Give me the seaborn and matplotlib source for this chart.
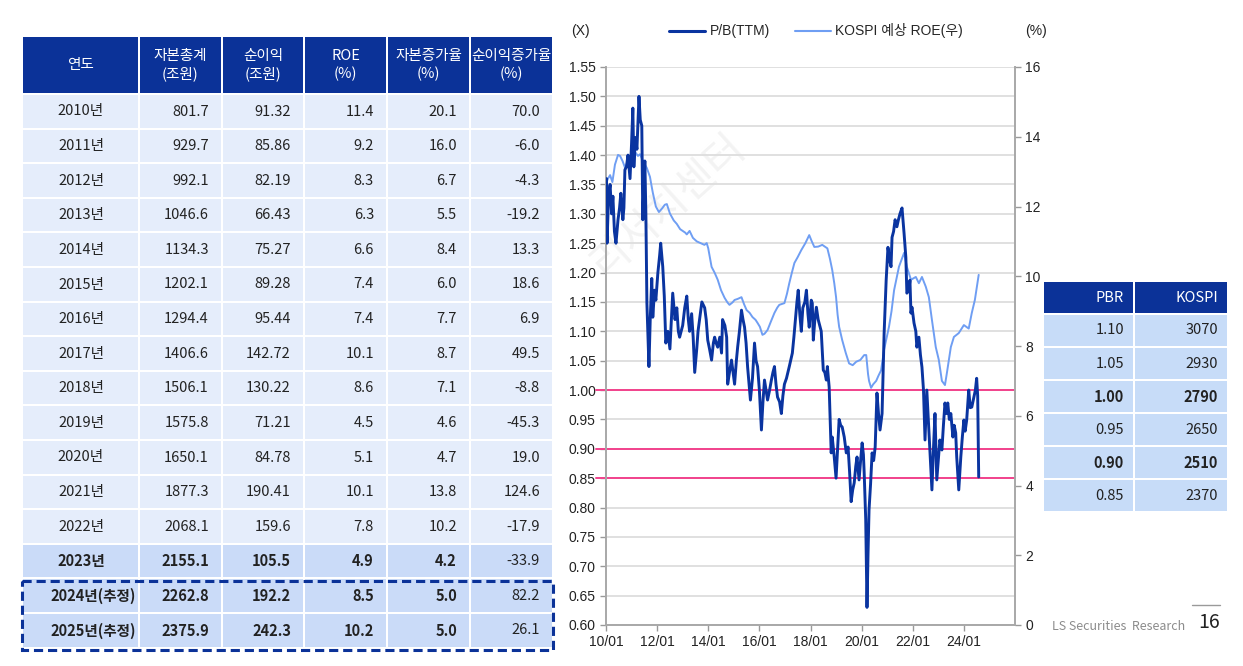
import numpy as np
import pandas as pd
import seaborn as sns
import matplotlib.pyplot as plt
from matplotlib.patches import Rectangle
from matplotlib.lines import Line2D

# ---- 왼쪽 표: 연도별 자본/순이익 ----
headers = ['연도', '자본총계\n(조원)', '순이익\n(조원)', 'ROE\n(%)', '자본증가율\n(%)', '순이익증가율\n(%)']
years = ['2010년', '2011년', '2012년', '2013년', '2014년', '2015년', '2016년', '2017년',
         '2018년', '2019년', '2020년', '2021년', '2022년', '2023년', '2024년(추정)', '2025년(추정)']
equity = ['801.7', '929.7', '992.1', '1046.6', '1134.3', '1202.1', '1294.4', '1406.6',
          '1506.1', '1575.8', '1650.1', '1877.3', '2068.1', '2155.1', '2262.8', '2375.9']
net_income = ['91.32', '85.86', '82.19', '66.43', '75.27', '89.28', '95.44', '142.72',
              '130.22', '71.21', '84.78', '190.41', '159.6', '105.5', '192.2', '242.3']
roe = ['11.4', '9.2', '8.3', '6.3', '6.6', '7.4', '7.4', '10.1',
       '8.6', '4.5', '5.1', '10.1', '7.8', '4.9', '8.5', '10.2']
equity_growth = ['20.1', '16.0', '6.7', '5.5', '8.4', '6.0', '7.7', '8.7',
                 '7.1', '4.6', '4.7', '13.8', '10.2', '4.2', '5.0', '5.0']
income_growth = ['70.0', '-6.0', '-4.3', '-19.2', '13.3', '18.6', '6.9', '49.5',
                 '-8.8', '-45.3', '19.0', '124.6', '-17.9', '-33.9', '82.2', '26.1']

# ---- 차트: P/B(TTM), 좌축 (연 단위 시점) ----
pb_t = [2010.00, 2010.02, 2010.04, 2010.10, 2010.16, 2010.22, 2010.27, 2010.33, 2010.39, 2010.47,
        2010.53, 2010.58, 2010.66, 2010.70, 2010.74, 2010.80, 2010.86, 2010.94, 2011.00, 2011.05,
        2011.09, 2011.15, 2011.21, 2011.29, 2011.34, 2011.40, 2011.44, 2011.48, 2011.52, 2011.56,
        2011.60, 2011.68, 2011.73, 2011.79, 2011.83, 2011.90, 2011.95, 2012.03, 2012.10, 2012.14,
        2012.22, 2012.28, 2012.34, 2012.42, 2012.50, 2012.56, 2012.61, 2012.70, 2012.77, 2012.83,
        2012.88, 2013.00, 2013.08, 2013.16, 2013.22, 2013.27, 2013.35, 2013.41, 2013.47, 2013.55,
        2013.60, 2013.66, 2013.75, 2013.86, 2013.92, 2013.98, 2014.05, 2014.13, 2014.20, 2014.25,
        2014.31, 2014.37, 2014.45, 2014.52, 2014.56, 2014.65, 2014.72, 2014.76, 2014.83, 2014.91,
        2014.97, 2015.03, 2015.10, 2015.15, 2015.22, 2015.30, 2015.36, 2015.42, 2015.48, 2015.54,
        2015.65, 2015.73, 2015.81, 2015.87, 2015.93, 2016.00, 2016.08, 2016.14, 2016.20, 2016.26,
        2016.32, 2016.40, 2016.47, 2016.53, 2016.59, 2016.65, 2016.71, 2016.79, 2016.86, 2016.92,
        2016.98, 2017.06, 2017.17, 2017.29, 2017.35, 2017.41, 2017.47, 2017.52, 2017.58, 2017.64,
        2017.70, 2017.78, 2017.84, 2017.90, 2017.95, 2018.03, 2018.07, 2018.11, 2018.17, 2018.23,
        2018.30, 2018.36, 2018.42, 2018.50, 2018.56, 2018.62, 2018.66, 2018.73, 2018.81, 2018.85,
        2018.92, 2019.00, 2019.06, 2019.12, 2019.18, 2019.24, 2019.32, 2019.40, 2019.47, 2019.53,
        2019.59, 2019.65, 2019.71, 2019.77, 2019.82, 2019.90, 2019.96, 2020.02, 2020.07, 2020.10,
        2020.16, 2020.21, 2020.25, 2020.29, 2020.35, 2020.41, 2020.47, 2020.53, 2020.60, 2020.66,
        2020.72, 2020.80, 2020.88, 2020.96, 2021.03, 2021.10, 2021.15, 2021.19, 2021.25, 2021.31,
        2021.38, 2021.44, 2021.50, 2021.58, 2021.66, 2021.73, 2021.77, 2021.85, 2021.89, 2021.93,
        2021.97, 2022.05, 2022.12, 2022.16, 2022.24, 2022.30, 2022.36, 2022.42, 2022.48, 2022.55,
        2022.61, 2022.67, 2022.75, 2022.81, 2022.87, 2022.94, 2023.00, 2023.06, 2023.14, 2023.20,
        2023.26, 2023.32, 2023.37, 2023.43, 2023.49, 2023.57, 2023.62, 2023.68, 2023.72, 2023.80,
        2023.88, 2023.94, 2024.00, 2024.05, 2024.11, 2024.19, 2024.25, 2024.31, 2024.39, 2024.45,
        2024.50, 2024.54, 2024.58]
pb_v = [1.33, 1.36, 1.25, 1.33, 1.35, 1.30, 1.33, 1.27, 1.25, 1.29,
        1.31, 1.335, 1.29, 1.31, 1.375, 1.38, 1.40, 1.36, 1.42, 1.48,
        1.38, 1.43, 1.41, 1.50, 1.46, 1.45, 1.29, 1.35, 1.39, 1.30,
        1.148, 1.04, 1.12, 1.19, 1.124, 1.17, 1.153, 1.20, 1.23, 1.25,
        1.21, 1.16, 1.08, 1.10, 1.07, 1.12, 1.165, 1.12, 1.14, 1.10,
        1.09, 1.11, 1.14, 1.16, 1.12, 1.10, 1.13, 1.09, 1.03, 1.07,
        1.10, 1.12, 1.15, 1.14, 1.12, 1.085, 1.07, 1.051, 1.08, 1.09,
        1.08, 1.073, 1.09, 1.063, 1.12, 1.11, 1.09, 1.01, 1.03, 1.051,
        1.03, 1.01, 1.05, 1.073, 1.10, 1.136, 1.12, 1.107, 1.08, 1.039,
        0.983, 1.02, 1.08, 1.05, 1.04, 1.00, 0.932, 0.98, 1.017, 1.00,
        0.983, 1.00, 1.017, 1.03, 1.04, 1.01, 0.988, 0.98, 0.96, 0.99,
        1.01, 1.02, 1.04, 1.063, 1.09, 1.12, 1.15, 1.17, 1.13, 1.10,
        1.14, 1.15, 1.17, 1.13, 1.107, 1.153, 1.148, 1.085, 1.12, 1.141,
        1.12, 1.11, 1.10, 1.034, 1.03, 1.017, 1.04, 1.005, 0.893, 0.92,
        0.89, 0.85, 0.90, 0.95, 0.94, 0.937, 0.92, 0.893, 0.903, 0.86,
        0.81, 0.83, 0.842, 0.87, 0.886, 0.847, 0.88, 0.91, 0.89, 0.859,
        0.78, 0.63, 0.72, 0.796, 0.84, 0.893, 0.88, 0.903, 0.995, 0.96,
        0.932, 0.96, 1.097, 1.187, 1.243, 1.22, 1.21, 1.26, 1.27, 1.29,
        1.278, 1.29, 1.30, 1.31, 1.267, 1.226, 1.165, 1.17, 1.187, 1.131,
        1.141, 1.114, 1.10, 1.073, 1.09, 1.06, 1.039, 1.00, 0.915, 1.00,
        0.95, 0.903, 0.83, 0.90, 0.96, 0.847, 0.88, 0.915, 0.898, 0.94,
        0.978, 0.96, 0.978, 0.95, 0.96, 0.92, 0.94, 0.927, 0.886, 0.83,
        0.886, 0.92, 0.949, 0.93, 0.949, 1.00, 0.97, 0.971, 0.988, 1.00,
        1.02, 0.99, 0.852]

# ---- 차트: KOSPI 예상 ROE, 우축 (%) ----
roe_t = [2010.00, 2010.08, 2010.16, 2010.25, 2010.35, 2010.47, 2010.55, 2010.65, 2010.75, 2010.85,
         2010.95, 2011.05, 2011.15, 2011.25, 2011.33, 2011.45, 2011.60, 2011.72, 2011.78, 2011.83,
         2011.95, 2012.07, 2012.20, 2012.30, 2012.38, 2012.50, 2012.65, 2012.77, 2012.90, 2013.00,
         2013.10, 2013.16, 2013.27, 2013.40, 2013.55, 2013.70, 2013.85, 2013.94, 2014.00, 2014.13,
         2014.25, 2014.37, 2014.50, 2014.64, 2014.75, 2014.83, 2014.95, 2015.03, 2015.15, 2015.30,
         2015.40, 2015.50, 2015.62, 2015.73, 2015.85, 2015.93, 2016.02, 2016.12, 2016.20, 2016.32,
         2016.45, 2016.59, 2016.70, 2016.78, 2016.98, 2017.08, 2017.17, 2017.27, 2017.37, 2017.50,
         2017.64, 2017.80, 2017.95, 2018.05, 2018.15, 2018.30, 2018.46, 2018.56, 2018.66, 2018.76,
         2018.85, 2018.93, 2019.00, 2019.06, 2019.12, 2019.24, 2019.38, 2019.51, 2019.65, 2019.79,
         2019.95, 2020.10, 2020.18, 2020.25, 2020.29, 2020.37, 2020.45, 2020.57, 2020.66, 2020.76,
         2020.88, 2021.07, 2021.17, 2021.27, 2021.46, 2021.66, 2021.77, 2021.93, 2022.12, 2022.24,
         2022.36, 2022.51, 2022.63, 2022.75, 2022.90, 2023.02, 2023.14, 2023.26, 2023.33, 2023.49,
         2023.61, 2023.80, 2024.00, 2024.19, 2024.31, 2024.43, 2024.58]
roe_v = [12.67, 12.8, 12.9, 12.7, 13.2, 13.48, 13.45, 13.3, 13.1, 13.3,
         13.4, 13.6, 13.55, 13.45, 13.5, 13.3, 13.1, 12.85, 12.6, 12.4,
         12.0, 11.84, 11.95, 12.05, 12.07, 11.8, 11.6, 11.5, 11.35, 11.3,
         11.25, 11.2, 11.3, 11.1, 11.0, 10.95, 10.9, 10.95, 10.8, 10.27,
         10.1, 9.9, 9.6, 9.38, 9.25, 9.18, 9.25, 9.32, 9.35, 9.4,
         9.2, 9.03, 8.95, 8.83, 8.75, 8.66, 8.55, 8.32, 8.35, 8.46,
         8.7, 8.95, 9.1, 9.18, 9.23, 9.5, 9.8, 10.1, 10.38, 10.55,
         10.75, 10.95, 11.18, 11.0, 10.84, 10.85, 10.9, 10.85, 10.8, 10.5,
         10.18, 9.8, 9.4, 8.9, 8.55, 8.17, 7.8, 7.5, 7.45, 7.55,
         7.6, 7.74, 7.74, 7.2, 7.0, 6.8, 6.9, 7.0, 7.15, 7.3,
         7.9, 8.55, 9.0, 9.6, 10.27, 10.67, 10.27, 9.9, 9.98, 9.8,
         9.98, 9.7, 9.4, 8.75, 7.97, 7.6, 7.0, 6.88, 7.2, 7.97,
         8.26, 8.37, 8.6, 8.5, 8.95, 9.32, 10.04]

pbr_levels = [1.00, 0.90, 0.85]
x_ticks = [2010, 2012, 2014, 2016, 2018, 2020, 2022, 2024]

# ---- 오른쪽 표: PBR 별 KOSPI ----
pbr = ['1.10', '1.05', '1.00', '0.95', '0.90', '0.85']
kospi = ['3070', '2930', '2790', '2650', '2510', '2370']
pbr_bold = ['1.00', '0.90']

NAVY = '#0B3298'
ROW_LIGHT = '#E5EDFB'
ROW_MID = '#CADBF8'
RIGHT_FILL = '#C7DCF8'
DARK_LINE = '#0A34A0'
LIGHT_LINE = '#6F9EF3'
PINK = '#F2428C'
TXT = '#222222'

sns.set_theme(style='ticks')
plt.rcParams['font.family'] = ['Noto Sans CJK KR', 'DejaVu Sans']
chart_font = ['Liberation Sans', 'Noto Sans CJK KR']

fig = plt.figure(figsize=(12.43, 6.66), dpi=100)

# 배경용 축 (픽셀 좌표)
bg = fig.add_axes([0, 0, 1, 1])
bg.set_xlim(0, 1243)
bg.set_ylim(666, 0)
bg.axis('off')

bg.text(668, 205, '리서치센터', rotation=42, fontsize=30, color='#F3F3F3',
        ha='center', va='center', zorder=0)

# 왼쪽 표
col_x = [22, 139, 222, 304, 387, 470, 553]
for j, h in enumerate(headers):
    bg.add_patch(Rectangle((col_x[j] + 1, 37), col_x[j + 1] - col_x[j] - 2, 56, fc=NAVY, ec='none'))
    bg.text((col_x[j] + col_x[j + 1]) / 2, 65, h, color='white', ha='center', va='center',
            fontsize=10.5, linespacing=1.3)

columns = [years, equity, net_income, roe, equity_growth, income_growth]
for i in range(len(years)):
    top = 95 + i * 34.6
    fc = ROW_LIGHT if i < 13 else ROW_MID
    for j, col in enumerate(columns):
        bg.add_patch(Rectangle((col_x[j] + 1, top), col_x[j + 1] - col_x[j] - 2, 32.6, fc=fc, ec='none'))
        yc = top + 16.5
        if j == 0:
            w = 'medium' if i < 13 else 'bold'
            if i < 14:
                bg.text(81, yc, col[i], ha='center', va='center', fontsize=10.5, color=TXT, weight=w)
            else:
                bg.text(136, yc, col[i], ha='right', va='center', fontsize=10.5, color=TXT, weight=w)
        else:
            w = 'bold' if (i >= 13 and j < 5) else 'normal'
            bg.text(col_x[j + 1] - 13, yc, col[i], ha='right', va='center', fontsize=10.5,
                    color=TXT, weight=w)

bg.add_patch(Rectangle((22, 581), 531, 69, fill=False, ec=NAVY, lw=2.2, ls=(0, (3, 1.6))))

# 오른쪽 표
rx = [1043, 1134, 1228]
for j, h in enumerate(['PBR', 'KOSPI']):
    bg.add_patch(Rectangle((rx[j] + 1, 282), rx[j + 1] - rx[j] - 2, 31, fc=NAVY, ec='none'))
    bg.text(rx[j + 1] - 10, 298, h, color='white', ha='right', va='center', fontsize=10.5)
for i in range(len(pbr)):
    top = 315 + i * 33
    w = 'bold' if pbr[i] in pbr_bold else 'normal'
    for j, col in enumerate([pbr, kospi]):
        bg.add_patch(Rectangle((rx[j] + 1, top), rx[j + 1] - rx[j] - 2, 31, fc=RIGHT_FILL, ec='none'))
        bg.text(rx[j + 1] - 10, top + 15.5, col[i], ha='right', va='center', fontsize=10.5,
                color=TXT, weight=w)

# 꼬리말
bg.text(1185, 626, 'LS Securities  Research', ha='right', va='center', color='#8C8C8C', fontsize=9)
bg.text(1220, 623, '16', ha='right', va='center', color=TXT, fontsize=14)
bg.plot([1192, 1220], [605, 605], color='#9A9A9A', lw=1)

# 단위 표기
bg.text(580, 31, '(X)', ha='center', va='center', fontsize=10, color=TXT, family=chart_font)
bg.text(1036, 31, '(%)', ha='center', va='center', fontsize=10, color=TXT, family=chart_font)

# ---- 차트 ----
pos = [606 / 1243, 41 / 666, 409 / 1243, 558 / 666]
ax = fig.add_axes(pos)
ax.patch.set_alpha(0)
ax.grid(axis='y', color='#DDDDDD', lw=1.3)
for v in pbr_levels:
    ax.axhline(v, color=PINK, lw=1.4, xmin=-0.025, clip_on=False, zorder=2)

ax2 = ax.twinx()
sns.lineplot(x=roe_t, y=roe_v, ax=ax2, color=LIGHT_LINE, lw=1.4)

ax3 = fig.add_axes(pos, sharex=ax, sharey=ax)
ax3.patch.set_alpha(0)
sns.lineplot(x=pb_t, y=pb_v, ax=ax3, color=DARK_LINE, lw=2.1)
ax3.axis('off')

ax.set_xlim(2010, 2026)
ax.set_ylim(0.60, 1.55)
ax.set_yticks(np.arange(0.60, 1.551, 0.05))
ax.yaxis.set_major_formatter(lambda v, p: f'{v:.2f}')
ax.set_xticks(x_ticks)
ax.set_xticklabels([f'{t % 100:02d}/01' for t in x_ticks])
ax2.set_ylim(0, 16)
ax2.set_yticks(range(0, 17, 2))
ax2.set_ylabel('')

for a in (ax, ax2):
    a.tick_params(direction='out', length=4, width=1, color='#999999', labelsize=10,
                  labelcolor=TXT, labelfontfamily='Liberation Sans')
    for s in a.spines.values():
        s.set_color('#A8A8A8')
        s.set_linewidth(1.4)
    a.spines['top'].set_visible(False)
ax.spines['right'].set_visible(False)
ax2.spines['left'].set_visible(False)
ax2.spines['bottom'].set_visible(False)

handles = [Line2D([], [], color=DARK_LINE, lw=2.2), Line2D([], [], color=LIGHT_LINE, lw=1.5)]
fig.legend(handles, ['P/B(TTM)', 'KOSPI 예상 ROE(우)'], loc='center',
           bbox_to_anchor=(816 / 1243, 1 - 31 / 666), ncol=2, frameon=False,
           handlelength=2.6, handletextpad=0.3, columnspacing=1.8,
           prop={'family': chart_font, 'size': 10})

fig.savefig('out.png', dpi=100, facecolor='white')
